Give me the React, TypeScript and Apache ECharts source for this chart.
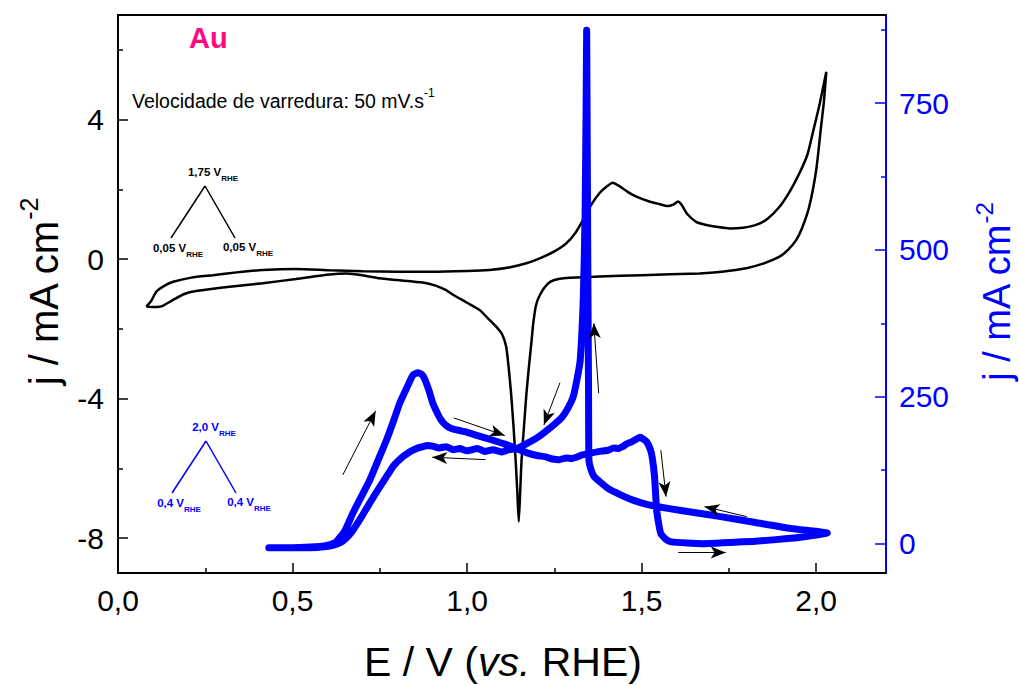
import React, { useEffect, useRef } from "react";
import * as echarts from "echarts";

// ---- Data ----
// Black CV (left axis, mA cm-2): anodic sweep then cathodic sweep
const blackE = [
  0.081, 0.095, 0.11, 0.13, 0.158, 0.21, 0.272, 0.34, 0.415, 0.51, 0.606, 0.702, 0.8, 0.893, 1.0, 1.064, 1.12, 1.17, 1.208, 1.25,
  1.284, 1.31, 1.332, 1.355, 1.379, 1.4, 1.417, 1.435, 1.46, 1.485, 1.52, 1.55, 1.575, 1.59, 1.604, 1.615, 1.63, 1.656, 1.685, 1.714,
  1.752, 1.79, 1.828, 1.86, 1.895, 1.925, 1.952, 1.975, 1.99, 2.01, 2.029,
  2.022, 2.014, 2.0, 1.98, 1.96, 1.943, 1.92, 1.895, 1.85, 1.8, 1.73, 1.666, 1.5, 1.379, 1.284, 1.25, 1.23, 1.21, 1.198, 1.19,
  1.184, 1.177, 1.17, 1.163, 1.156, 1.152, 1.148, 1.144, 1.139, 1.133, 1.126, 1.119, 1.112, 1.1, 1.08, 1.055, 1.036, 1.0, 0.96, 0.94,
  0.91, 0.873, 0.8, 0.749, 0.7, 0.654, 0.606, 0.51, 0.415, 0.32, 0.224, 0.19, 0.158, 0.13, 0.119, 0.1, 0.081,
];
const blackJ = [
  -1.36, -1.2, -0.93, -0.78, -0.65, -0.53, -0.46, -0.38, -0.31, -0.28, -0.32, -0.35, -0.36, -0.36, -0.34, -0.31, -0.24, -0.12, 0.02, 0.22,
  0.45, 0.75, 1.12, 1.55, 1.89, 2.08, 2.19, 2.1, 1.93, 1.79, 1.66, 1.58, 1.52, 1.56, 1.65, 1.55, 1.3, 1.07, 0.98, 0.93,
  0.88, 0.9, 0.98, 1.15, 1.5, 1.95, 2.46, 3.0, 3.61, 4.45, 5.37,
  4.5, 3.8, 2.55, 1.5, 0.9, 0.55, 0.27, 0.07, -0.12, -0.26, -0.36, -0.41, -0.46, -0.5, -0.54, -0.6, -0.72, -1.0, -1.3, -1.8,
  -2.41, -3.1, -3.85, -4.8, -5.76, -6.7, -7.53, -6.7, -5.76, -4.8, -3.85, -3.1, -2.51, -2.15, -1.9, -1.65, -1.46, -1.25, -1.02, -0.89,
  -0.76, -0.67, -0.6, -0.55, -0.46, -0.41, -0.44, -0.57, -0.69, -0.79, -0.915, -1.0, -1.17, -1.33, -1.365, -1.37, -1.36,
];

// Blue CV (right axis, mA cm-2): anodic sweep then cathodic sweep
const blueE = [
  0.432, 0.5, 0.578, 0.605, 0.625, 0.65, 0.673, 0.697, 0.721, 0.745, 0.769, 0.79, 0.807, 0.827, 0.845, 0.859, 0.87, 0.878, 0.89, 0.902,
  0.915, 0.926, 0.94, 0.955, 0.975, 0.998, 1.03, 1.074, 1.11, 1.141, 1.17, 1.2, 1.223, 1.245, 1.264, 1.285, 1.3, 1.313, 1.33, 1.354,
  1.38, 1.404, 1.42, 1.435, 1.445, 1.458, 1.47, 1.485, 1.495, 1.505, 1.515, 1.525, 1.53, 1.537, 1.543, 1.55, 1.555, 1.57, 1.585, 1.63,
  1.676, 1.75, 1.826, 1.926, 1.98, 2.032,
  2.0, 1.926, 1.826, 1.726, 1.65, 1.575, 1.52, 1.475, 1.44, 1.404, 1.385, 1.364, 1.355, 1.349, 1.348, 1.346, 1.344, 1.3425, 1.341, 1.338,
  1.333, 1.324, 1.315, 1.304, 1.29, 1.273, 1.25, 1.223, 1.2, 1.173, 1.143, 1.12, 1.1, 1.074, 1.05, 1.03, 1.0, 0.979, 0.96, 0.94,
  0.92, 0.902, 0.885, 0.873, 0.86, 0.845, 0.83, 0.816, 0.79, 0.769, 0.745, 0.721, 0.697, 0.673, 0.655, 0.635, 0.615, 0.597, 0.55, 0.45,
];
const blueJ = [
  -7, -7, -5, -2, 3, 22, 52, 80, 108, 142, 176, 210, 239, 265, 287, 291, 288, 281, 262, 239,
  222, 210, 201, 196, 193, 190, 184, 176, 169, 162, 155, 150, 148, 144, 143, 146, 145, 147, 151, 154,
  157, 159, 163, 162, 165, 170, 173, 178, 181, 178, 173, 160, 148, 114, 57, 30, 17, 7, 3, 1,
  0, 2, 4, 9, 13, 18,
  21, 26, 36, 46, 53, 60, 66, 74, 83, 94, 103, 114, 126, 142, 250, 450, 700, 874, 750, 560,
  420, 312, 280, 250, 232, 216, 203, 190, 180, 171, 162, 160, 156, 160, 157, 162, 158, 162, 160, 165,
  163, 166, 167, 165, 163, 159, 154, 148, 133, 114, 92, 69, 45, 23, 10, 1, -3, -5, -7, -7,
];

// Sweep-direction arrows (E, j on right axis): [E1, j1, E2, j2], head at the second point
const arrows = [
  [0.644, 117, 0.738, 226],
  [0.962, 214, 1.108, 184],
  [1.053, 143, 0.9, 147],
  [1.266, 274, 1.22, 202],
  [1.377, 256, 1.363, 375],
  [1.555, 159, 1.57, 80],
  [1.801, 46, 1.68, 63],
  [1.605, -15, 1.741, -15],
];

// Axis ticks
const xMajor = [0, 0.5, 1, 1.5, 2];
const xMinor = [0.25, 0.75, 1.25, 1.75];
const yLeftMajor = [-8, -4, 0, 4];
const yLeftMinor = [-6, -2, 2, 6];
const yRightMajor = [0, 250, 500, 750];
const yRightMinor = [125, 375, 625, 875];

const FONT = "'Liberation Sans', Arial, Helvetica, sans-serif";
const BLUE = "#0000ff";

export default function App() {
  const ref = useRef<HTMLDivElement>(null);
  useEffect(() => {
    if (!ref.current) return;
    const chart = echarts.init(ref.current, undefined, { renderer: "svg" });
    const comma = (v: number) => v.toFixed(1).replace(".", ",");
    const blackData = blackE.map((e, i) => [e, blackJ[i]]);
    const blueData = blueE.map((e, i) => [e, blueJ[i]]);
    const arrowData = arrows.map((a) => [{ coord: [a[0], a[1]] }, { coord: [a[2], a[3]] }]);

    function richSub(color: string) {
      return {
        m: { fontSize: 11.5, fontWeight: "bold", fontFamily: FONT, fill: color, verticalAlign: "top", lineHeight: 16 },
        s: { fontSize: 8, fontWeight: "bold", fontFamily: FONT, fill: color, verticalAlign: "bottom", lineHeight: 16 },
      };
    }
    const triangle = (cx: number, top: number, color: string, topLbl: string, footLbl: string) => [
      { type: "line", shape: { x1: cx - 34, y1: top + 52, x2: cx, y2: top }, style: { stroke: color, lineWidth: 1.5 } },
      { type: "line", shape: { x1: cx, y1: top, x2: cx + 30, y2: top + 52 }, style: { stroke: color, lineWidth: 1.5 } },
      {
        type: "text", x: cx + 8, y: top - 4,
        style: { text: `{m|${topLbl} V}{s|RHE}`, align: "center", verticalAlign: "bottom", fill: color, rich: richSub(color) },
      },
      {
        type: "text", x: cx - 27, y: top + 56,
        style: { text: `{m|${footLbl} V}{s|RHE}`, align: "center", verticalAlign: "top", fill: color, rich: richSub(color) },
      },
      {
        type: "text", x: cx + 43, y: top + 55,
        style: { text: `{m|${footLbl} V}{s|RHE}`, align: "center", verticalAlign: "top", fill: color, rich: richSub(color) },
      },
    ];

    chart.setOption({
      animation: false,
      backgroundColor: "#ffffff",
      grid: { left: 118, right: 133, top: 15, bottom: 113, containLabel: false },
      xAxis: [
        {
          type: "value", min: 0, max: 2.2, position: "bottom",
          axisLine: { show: true, onZero: false, lineStyle: { color: "#000", width: 2 } },
          axisTick: { show: true, inside: true, length: 10, customValues: xMajor, lineStyle: { color: "#000", width: 1.5 } },
          axisLabel: { show: true, customValues: xMajor, formatter: comma, fontSize: 30, color: "#000", fontFamily: FONT, margin: 12 },
          splitLine: { show: false },
        },
        {
          type: "value", min: 0, max: 2.2, position: "bottom",
          axisLine: { show: false, onZero: false },
          axisTick: { show: true, inside: true, length: 5, customValues: xMinor, lineStyle: { color: "#000", width: 1.5 } },
          axisLabel: { show: false },
          splitLine: { show: false },
        },
        {
          type: "value", min: 0, max: 2.2, position: "top",
          axisLine: { show: true, onZero: false, lineStyle: { color: "#000", width: 2 } },
          axisTick: { show: false }, axisLabel: { show: false }, splitLine: { show: false },
        },
      ],
      yAxis: [
        {
          type: "value", min: -9, max: 7, position: "left",
          axisLine: { show: true, onZero: false, lineStyle: { color: "#000", width: 2 } },
          axisTick: { show: true, inside: true, length: 10, customValues: yLeftMajor, lineStyle: { color: "#000", width: 1.5 } },
          axisLabel: { show: true, customValues: yLeftMajor, fontSize: 30, color: "#000", fontFamily: FONT, margin: 14 },
          splitLine: { show: false },
        },
        {
          type: "value", min: -9, max: 7, position: "left",
          axisLine: { show: false, onZero: false },
          axisTick: { show: true, inside: true, length: 5, customValues: yLeftMinor, lineStyle: { color: "#000", width: 1.5 } },
          axisLabel: { show: false }, splitLine: { show: false },
        },
        {
          type: "value", min: -50, max: 900, position: "right",
          axisLine: { show: true, onZero: false, lineStyle: { color: BLUE, width: 2 } },
          axisTick: { show: true, inside: true, length: 11, customValues: yRightMajor, lineStyle: { color: BLUE, width: 1.5 } },
          axisLabel: { show: true, customValues: yRightMajor, fontSize: 30, color: BLUE, fontFamily: FONT, margin: 13 },
          splitLine: { show: false },
        },
        {
          type: "value", min: -50, max: 900, position: "right",
          axisLine: { show: false, onZero: false },
          axisTick: { show: true, inside: true, length: 5, customValues: yRightMinor, lineStyle: { color: BLUE, width: 1.5 } },
          axisLabel: { show: false }, splitLine: { show: false },
        },
      ],
      series: [
        {
          type: "line", name: "Au 1.75", xAxisIndex: 0, yAxisIndex: 0, data: blackData,
          showSymbol: false, smooth: 0.2, lineStyle: { color: "#000", width: 2.5 }, z: 3,
        },
        {
          type: "line", name: "Au 2.0", xAxisIndex: 0, yAxisIndex: 2, data: blueData,
          showSymbol: false, smooth: 0.15, lineStyle: { color: BLUE, width: 7, join: "round", cap: "round" }, z: 4,
        },
        {
          type: "line", name: "arrows", xAxisIndex: 0, yAxisIndex: 2, data: [],
          markLine: {
            silent: true, animation: false, symbol: ["none", "arrow"], symbolSize: [9, 15],
            lineStyle: { color: "#000", width: 1, type: "solid" }, label: { show: false },
            emphasis: { disabled: true },
            data: arrowData,
          },
          z: 5,
        },
      ],
      graphic: [
        {
          type: "text", left: 189, top: 23,
          style: { text: "Au", fontSize: 29, fontWeight: "bold", fontFamily: FONT, fill: "#ff0a80" },
        },
        {
          type: "text", x: 132, y: 111,
          style: {
            text: "{m|Velocidade de varredura: 50 mV.s}{p|-1}", verticalAlign: "bottom",
            rich: {
              m: { fontSize: 19.5, fontFamily: FONT, fill: "#000", verticalAlign: "bottom", lineHeight: 24 },
              p: { fontSize: 12, fontFamily: FONT, fill: "#000", verticalAlign: "top", lineHeight: 24 },
            },
          },
        },
        ...triangle(205, 186, "#000", "1,75", "0,05"),
        ...triangle(206, 441, BLUE, "2,0", "0,4"),
        {
          type: "text", x: 503, y: 662,
          style: {
            text: "{n|E / V (}{i|vs.}{n| RHE)}", align: "center", verticalAlign: "middle",
            rich: {
              n: { fontSize: 41, fontFamily: FONT, fill: "#000" },
              i: { fontSize: 41, fontFamily: FONT, fontStyle: "italic", fill: "#000" },
            },
          },
        },
        {
          type: "text", x: 40, y: 292, rotation: Math.PI / 2,
          style: {
            text: "{n|j / mA cm}{p|-2}", align: "center", verticalAlign: "middle",
            rich: {
              n: { fontSize: 40, fontFamily: FONT, fill: "#000", verticalAlign: "bottom", lineHeight: 48 },
              p: { fontSize: 25, fontFamily: FONT, fill: "#000", verticalAlign: "top", lineHeight: 48 },
            },
          },
        },
        {
          type: "text", x: 994, y: 292, rotation: Math.PI / 2,
          style: {
            text: "{n|j / mA cm}{p|-2}", align: "center", verticalAlign: "middle",
            rich: {
              n: { fontSize: 38, fontFamily: FONT, fill: BLUE, verticalAlign: "bottom", lineHeight: 44 },
              p: { fontSize: 24, fontFamily: FONT, fill: BLUE, verticalAlign: "top", lineHeight: 44 },
            },
          },
        },
      ],
    });
    return () => chart.dispose();
  }, []);
  return <div ref={ref} style={{ position: "fixed", left: 0, top: 0, width: 1019, height: 686, background: "#fff" }} />;
}
